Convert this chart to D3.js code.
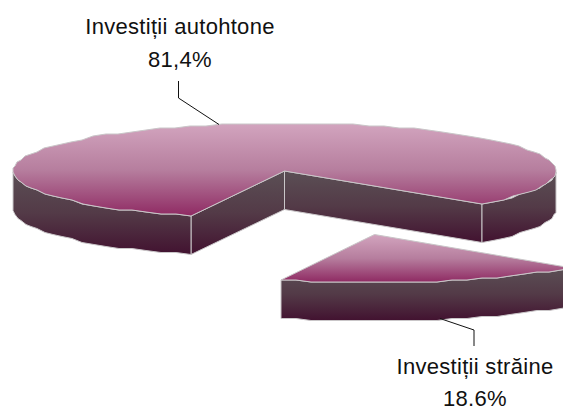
<!DOCTYPE html>
<html>
<head>
<meta charset="utf-8">
<script src="https://cdnjs.cloudflare.com/ajax/libs/d3/7.8.5/d3.min.js"></script>
<style>
  html, body { margin: 0; padding: 0; background: #fff; }
  svg { display: block; }
  text { font-family: "Liberation Sans", Arial, sans-serif; font-size: 22px; letter-spacing: 0.3px; fill: #111; text-anchor: middle; }
</style>
</head>
<body>
<svg id="chart" width="563" height="408"></svg>
<script>
const categories = ["Investiții străine", "Investiții autohtone"];
const values = [18.6, 81.4];
const valueLabels = ["18.6%", "81,4%"];

const width = 563, height = 408;
const depth = 38.5;
const explode = [[90, 63.5], [0, 0]]; // only the small slice is pulled out
const rad = Math.PI / 180;

const svg = d3.select("#chart");

// gradients
const defs = svg.append("defs");
var addGradient = (id, stops) => {
  defs.append("linearGradient").attr("id", id).attr("x1", 0).attr("y1", 0).attr("x2", 0).attr("y2", 1)
    .selectAll("stop").data(stops).join("stop")
    .attr("offset", d => d[0]).attr("stop-color", d => d[1]);
};
addGradient("topFill", [[0, "#d2a4be"], [0.5, "#b67e9e"], [1, "#8f2a63"]]);
addGradient("sideFill", [[0, "#5b4f55"], [0.5, "#533a47"], [1, "#421230"]]);

// flat ellipse: pie angle goes to screen through the two scales
const xScale = d3.scaleLinear().domain([-1, 1]).range([13, 556]);
const yScale = d3.scaleLinear().domain([1, -1]).range([123, 219]);

var slices = d3.pie().sort(null).startAngle(133.2 * rad).endAngle(133.2 * rad + 2 * Math.PI)(values);

// rounding on a 2px grid keeps the rough edge of the original
var project = (a, off, dy) => [
  Math.round(xScale(Math.sin(a)) + off[0]),
  Math.round((yScale(Math.cos(a)) + off[1]) / 2) * 2 + (dy || 0)
];
var arcPoints = (a0, a1, off, dy) => {
  var n = Math.max(1, Math.ceil((a1 - a0) / (3.5 * rad)));
  return d3.range(n + 1).map(i => project(a0 + (a1 - a0) * i / n, off, dy));
};
var lineGen = d3.line();
var closedPath = pts => lineGen(pts) + "Z";
var centerOf = off => [xScale(0) + off[0], yScale(0) + off[1]];

var face = (pts, fill) => svg.append("path").attr("d", closedPath(pts))
  .attr("fill", `url(#${fill})`).attr("stroke", "#c9c6c8").attr("stroke-width", 1).attr("stroke-linejoin", "round");

// outer wall, only the part of a rim that faces the viewer
var rim = (a0, a1, off) => {
  var front = [[90 * rad, 270 * rad], [450 * rad, 630 * rad]];
  front.forEach(f => {
    var s = Math.max(a0, f[0]), e = Math.min(a1, f[1]);
    if (e <= s) return;
    var topEdge = arcPoints(s, e, off, 0);
    var botEdge = arcPoints(s, e, off, depth).reverse();
    face(topEdge.concat(botEdge), "sideFill");
  });
};

// cut wall between centre and rim
var wall = (a, off) => {
  var c = centerOf(off), p = project(a, off, 0);
  face([c, p, [p[0], p[1] + depth], [c[0], c[1] + depth]], "sideFill");
};

slices.forEach((d, i) => {
  var off = explode[i];
  if (i === 1) {
    wall(d.startAngle, off);
    wall(d.endAngle, off);
  }
  rim(d.startAngle, d.endAngle, off);
  var topFace = [centerOf(off)].concat(arcPoints(d.startAngle, d.endAngle, off, 0));
  face(topFace, "topFill");
});

// leader lines
var leaders = [
  [[474, 346], [474, 330], [440, 318.5]],
  [[178.5, 81], [178.5, 98], [219, 124.5]]
];
svg.selectAll(".leader").data(leaders).join("path").attr("class", "leader")
  .attr("d", d => lineGen(d)).attr("fill", "none").attr("stroke", "#111").attr("stroke-width", 1);

// labels
var labelPos = [[475, 374, 406], [180, 33.5, 66.5]];
categories.forEach((c, i) => {
  svg.append("text").attr("x", labelPos[i][0]).attr("y", labelPos[i][1]).text(c);
  svg.append("text").attr("x", labelPos[i][0]).attr("y", labelPos[i][2]).text(valueLabels[i]);
});
</script>
</body>
</html>
